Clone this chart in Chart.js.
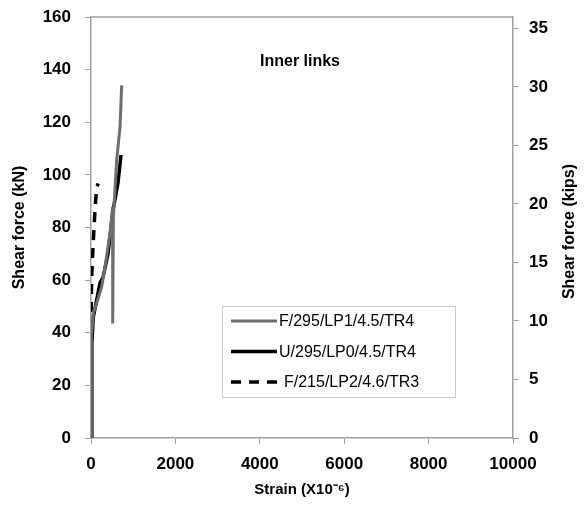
<!DOCTYPE html>
<html>
<head>
<meta charset="utf-8">
<script src="https://cdn.jsdelivr.net/npm/chart.js@4"></script>
<style>
  html, body { margin: 0; padding: 0; background: #fff; }
  #wrap { width: 588px; height: 517px; }
</style>
</head>
<body>
<div id="wrap"><canvas id="shearChart" width="588" height="517"></canvas></div>
<script>
// strain (x10^-6) and shear force (kN)
const seriesNames = ['F/295/LP1/4.5/TR4', 'U/295/LP0/4.5/TR4', 'F/215/LP2/4.6/TR3'];

const grayStrain = [0, 0, 16, 55, 134, 253, 332, 450, 514, 514, 530, 608, 687, 727];
const grayForce  = [0, 29.5, 38.4, 47.4, 51.2, 57.4, 65, 77.8, 87.8, 43.5, 84, 105.6, 118, 134];

const blackStrain = [0, 20, 55, 130, 213, 284, 403, 521, 640, 711];
const blackForce  = [0, 36, 46, 52, 59, 61, 70, 86.5, 97, 107.5];

const dashStrain = [0, 5, 16, 55, 95, 134, 174];
const dashForce  = [0, 50, 61.2, 75.2, 86.6, 95.4, 96.7];

const xTicks = [0, 2000, 4000, 6000, 8000, 10000];
const kNTicks = [0, 20, 40, 60, 80, 100, 120, 140, 160];
const kipTicks = [0, 5, 10, 15, 20, 25, 30, 35];
const KN_PER_KIP = 4.448;

const toPts = (xs, ys) => xs.map((x, i) => ({ x: x, y: ys[i] }));

const axisGray = '#a0a0a0';
const fam = '"Liberation Sans", Arial, sans-serif';
const tickFont = { family: fam, size: 17, weight: 'bold' };
const titleFont = { family: fam, size: 16, weight: 'bold' };

// frame on top, title, right axis title and legend box
const framePlugin = {
  id: 'frame',
  afterDraw(chart) {
    const { ctx, chartArea: a } = chart;
    ctx.save();
    ctx.strokeStyle = axisGray;
    ctx.lineWidth = 1.5;
    ctx.beginPath();
    ctx.moveTo(a.left, a.top);
    ctx.lineTo(a.right, a.top);
    ctx.stroke();

    ctx.fillStyle = '#000';
    ctx.font = 'bold 16px ' + fam;
    ctx.textAlign = 'center';
    ctx.textBaseline = 'middle';
    ctx.fillText('Inner links', 300, 62);

    // right axis title, reading bottom to top
    ctx.save();
    ctx.translate(570, (a.top + a.bottom) / 2 + 4);
    ctx.rotate(-Math.PI / 2);
    ctx.fillText('Shear force (kips)', 0, 0);
    ctx.restore();

    // legend
    const bx = 222, by = 306, bw = 233, bh = 91;
    ctx.fillStyle = '#fff';
    ctx.fillRect(bx, by, bw, bh);
    ctx.strokeStyle = '#c8c8c8';
    ctx.lineWidth = 1;
    ctx.strokeRect(bx + 0.5, by + 0.5, bw, bh);
    ctx.font = '16px ' + fam;
    ctx.textAlign = 'left';
    chart.data.datasets.forEach((ds, i) => {
      const y = by + 15 + i * 30.5;
      ctx.strokeStyle = ds.borderColor;
      ctx.lineWidth = ds.borderWidth;
      ctx.setLineDash(ds.borderDash || []);
      ctx.beginPath();
      ctx.moveTo(231, y);
      ctx.lineTo(277, y);
      ctx.stroke();
      ctx.setLineDash([]);
      ctx.fillStyle = '#000';
      ctx.fillText(ds.label, i === 2 ? 284 : 279, y + 1);
    });
    ctx.restore();
  }
};

const noVPad = s => { s.paddingTop = 0; s.paddingBottom = 0; };

new Chart(document.getElementById('shearChart'), {
  type: 'scatter',
  data: {
    datasets: [
      {
        label: seriesNames[0],
        data: toPts(grayStrain, grayForce),
        showLine: true,
        borderColor: '#6e6e6e',
        borderWidth: 3,
        pointRadius: 0,
        yAxisID: 'y'
      },
      {
        label: seriesNames[1],
        data: toPts(blackStrain, blackForce),
        showLine: true,
        borderColor: '#000000',
        borderWidth: 3.5,
        pointRadius: 0,
        yAxisID: 'y'
      },
      {
        label: seriesNames[2],
        data: toPts(dashStrain, dashForce),
        showLine: true,
        borderColor: '#000000',
        borderWidth: 3.5,
        borderDash: [10, 8],
        pointRadius: 0,
        yAxisID: 'y'
      }
    ]
  },
  options: {
    responsive: false,
    animation: false,
    layout: { padding: { top: 17, left: 6, right: 0, bottom: 14 } },
    plugins: {
      legend: { display: false },
      tooltip: { enabled: false }
    },
    scales: {
      x: {
        type: 'linear',
        min: 0,
        max: 10000,
        afterBuildTicks: s => { s.ticks = xTicks.map(v => ({ value: v })); },
        afterFit: s => { s.height = 65; s.paddingLeft = 0; s.paddingRight = 0; },
        grid: { drawOnChartArea: false, color: axisGray, tickLength: 6 },
        border: { color: axisGray, width: 1.5 },
        ticks: { color: '#000', font: tickFont, padding: 10, maxRotation: 0, callback: v => String(v) },
        title: {
          display: true,
          text: 'Strain (X10\u207B\u2076)',
          color: '#000',
          font: { family: fam, size: 15, weight: 'bold' },
          padding: { top: 0 }
        }
      },
      y: {
        position: 'left',
        min: 0,
        max: 160,
        afterBuildTicks: s => { s.ticks = kNTicks.map(v => ({ value: v })); },
        afterFit: s => { s.width = 85; noVPad(s); },
        grid: { drawOnChartArea: false, color: axisGray, tickLength: 6 },
        border: { color: axisGray, width: 1.5 },
        ticks: { color: '#000', font: tickFont, padding: 14 },
        title: {
          display: true,
          text: 'Shear force (kN)',
          color: '#000',
          font: titleFont,
          padding: { bottom: 2 }
        }
      },
      y2: {
        position: 'right',
        min: 0,
        max: 160 / KN_PER_KIP,
        afterBuildTicks: s => { s.ticks = kipTicks.map(v => ({ value: v })); },
        afterFit: s => { s.width = 75; noVPad(s); },
        grid: { drawOnChartArea: false, color: axisGray, tickLength: 6 },
        border: { color: axisGray, width: 1.5 },
        ticks: { color: '#000', font: tickFont, padding: 10 }
      }
    }
  },
  plugins: [framePlugin]
});
</script>
</body>
</html>
